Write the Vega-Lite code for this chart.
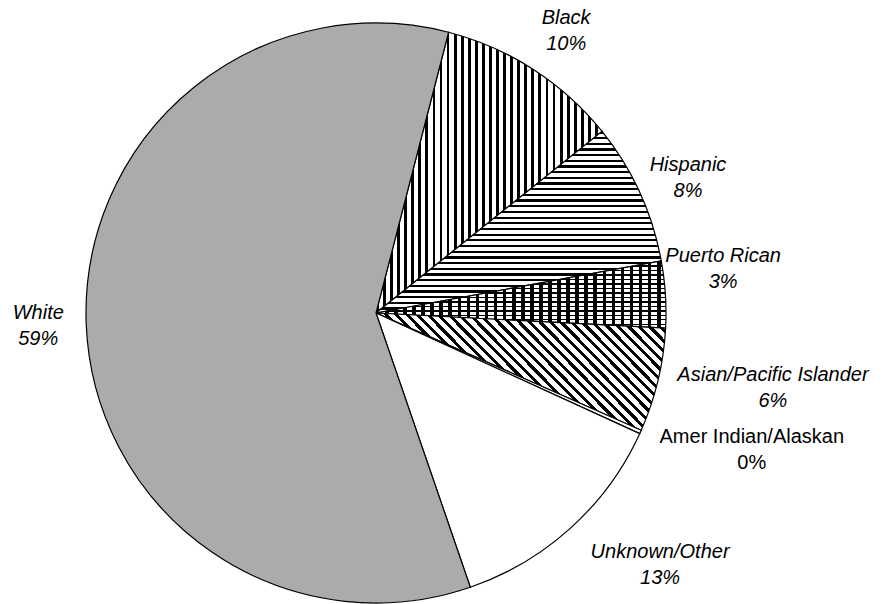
{
  "$schema": "https://vega.github.io/schema/vega-lite/v6.json",
  "width": 580,
  "height": 580,
  "autosize": {"type": "none"},
  "padding": {"left": 86, "top": 23, "right": 216, "bottom": 1},
  "background": "white",
  "view": {"stroke": null},
  "data": {"values": [
    {"cat": "Black", "pct": 10.2, "ord": 1, "label": "Black\n10%"},
    {"cat": "Hispanic", "pct": 7.9, "ord": 2, "label": "Hispanic\n8%"},
    {"cat": "Puerto Rican", "pct": 3.7, "ord": 3, "label": "Puerto Rican\n3%"},
    {"cat": "Asian/Pacific Islander", "pct": 5.8, "ord": 4, "label": "Asian/Pacific Islander\n6%"},
    {"cat": "Amer Indian/Alaskan", "pct": 0.2, "ord": 5, "label": "Amer Indian/Alaskan\n0%"},
    {"cat": "Unknown/Other", "pct": 12.9, "ord": 6, "label": "Unknown/Other\n13%"},
    {"cat": "White", "pct": 59.3, "ord": 7, "label": "White\n59%"}
  ]},
  "encoding": {
    "theta": {"field": "pct", "type": "quantitative", "stack": true, "scale": {"range": [0.2531, 6.5363]}},
    "order": {"field": "ord", "type": "quantitative"}
  },
  "layer": [
    {
      "mark": {"type": "arc", "radius": 290, "stroke": "#000", "strokeWidth": 1.2},
      "encoding": {
        "fill": {
          "condition": [
            {"test": "datum.ord == 1", "value": {"gradient": "linear", "x1": 0, "y1": 0, "x2": 1, "y2": 0, "stops": [
              {"offset":0,"color":"#000"},{"offset":0.0125,"color":"#000"},{"offset":0.0125,"color":"#fff"},{"offset":0.03125,"color":"#fff"},
              {"offset":0.03125,"color":"#000"},{"offset":0.04375,"color":"#000"},{"offset":0.04375,"color":"#fff"},{"offset":0.0625,"color":"#fff"},
              {"offset":0.0625,"color":"#000"},{"offset":0.075,"color":"#000"},{"offset":0.075,"color":"#fff"},{"offset":0.09375,"color":"#fff"},
              {"offset":0.09375,"color":"#000"},{"offset":0.10625,"color":"#000"},{"offset":0.10625,"color":"#fff"},{"offset":0.125,"color":"#fff"},
              {"offset":0.125,"color":"#000"},{"offset":0.1375,"color":"#000"},{"offset":0.1375,"color":"#fff"},{"offset":0.15625,"color":"#fff"},
              {"offset":0.15625,"color":"#000"},{"offset":0.16875,"color":"#000"},{"offset":0.16875,"color":"#fff"},{"offset":0.1875,"color":"#fff"},
              {"offset":0.1875,"color":"#000"},{"offset":0.2,"color":"#000"},{"offset":0.2,"color":"#fff"},{"offset":0.21875,"color":"#fff"},
              {"offset":0.21875,"color":"#000"},{"offset":0.23125,"color":"#000"},{"offset":0.23125,"color":"#fff"},{"offset":0.25,"color":"#fff"},
              {"offset":0.25,"color":"#000"},{"offset":0.2625,"color":"#000"},{"offset":0.2625,"color":"#fff"},{"offset":0.28125,"color":"#fff"},
              {"offset":0.28125,"color":"#000"},{"offset":0.29375,"color":"#000"},{"offset":0.29375,"color":"#fff"},{"offset":0.3125,"color":"#fff"},
              {"offset":0.3125,"color":"#000"},{"offset":0.325,"color":"#000"},{"offset":0.325,"color":"#fff"},{"offset":0.34375,"color":"#fff"},
              {"offset":0.34375,"color":"#000"},{"offset":0.35625,"color":"#000"},{"offset":0.35625,"color":"#fff"},{"offset":0.375,"color":"#fff"},
              {"offset":0.375,"color":"#000"},{"offset":0.3875,"color":"#000"},{"offset":0.3875,"color":"#fff"},{"offset":0.40625,"color":"#fff"},
              {"offset":0.40625,"color":"#000"},{"offset":0.41875,"color":"#000"},{"offset":0.41875,"color":"#fff"},{"offset":0.4375,"color":"#fff"},
              {"offset":0.4375,"color":"#000"},{"offset":0.45,"color":"#000"},{"offset":0.45,"color":"#fff"},{"offset":0.46875,"color":"#fff"},
              {"offset":0.46875,"color":"#000"},{"offset":0.48125,"color":"#000"},{"offset":0.48125,"color":"#fff"},{"offset":0.5,"color":"#fff"},
              {"offset":0.5,"color":"#000"},{"offset":0.5125,"color":"#000"},{"offset":0.5125,"color":"#fff"},{"offset":0.53125,"color":"#fff"},
              {"offset":0.53125,"color":"#000"},{"offset":0.54375,"color":"#000"},{"offset":0.54375,"color":"#fff"},{"offset":0.5625,"color":"#fff"},
              {"offset":0.5625,"color":"#000"},{"offset":0.575,"color":"#000"},{"offset":0.575,"color":"#fff"},{"offset":0.59375,"color":"#fff"},
              {"offset":0.59375,"color":"#000"},{"offset":0.60625,"color":"#000"},{"offset":0.60625,"color":"#fff"},{"offset":0.625,"color":"#fff"},
              {"offset":0.625,"color":"#000"},{"offset":0.6375,"color":"#000"},{"offset":0.6375,"color":"#fff"},{"offset":0.65625,"color":"#fff"},
              {"offset":0.65625,"color":"#000"},{"offset":0.66875,"color":"#000"},{"offset":0.66875,"color":"#fff"},{"offset":0.6875,"color":"#fff"},
              {"offset":0.6875,"color":"#000"},{"offset":0.7,"color":"#000"},{"offset":0.7,"color":"#fff"},{"offset":0.71875,"color":"#fff"},
              {"offset":0.71875,"color":"#000"},{"offset":0.73125,"color":"#000"},{"offset":0.73125,"color":"#fff"},{"offset":0.75,"color":"#fff"},
              {"offset":0.75,"color":"#000"},{"offset":0.7625,"color":"#000"},{"offset":0.7625,"color":"#fff"},{"offset":0.78125,"color":"#fff"},
              {"offset":0.78125,"color":"#000"},{"offset":0.79375,"color":"#000"},{"offset":0.79375,"color":"#fff"},{"offset":0.8125,"color":"#fff"},
              {"offset":0.8125,"color":"#000"},{"offset":0.825,"color":"#000"},{"offset":0.825,"color":"#fff"},{"offset":0.84375,"color":"#fff"},
              {"offset":0.84375,"color":"#000"},{"offset":0.85625,"color":"#000"},{"offset":0.85625,"color":"#fff"},{"offset":0.875,"color":"#fff"},
              {"offset":0.875,"color":"#000"},{"offset":0.8875,"color":"#000"},{"offset":0.8875,"color":"#fff"},{"offset":0.90625,"color":"#fff"},
              {"offset":0.90625,"color":"#000"},{"offset":0.91875,"color":"#000"},{"offset":0.91875,"color":"#fff"},{"offset":0.9375,"color":"#fff"},
              {"offset":0.9375,"color":"#000"},{"offset":0.95,"color":"#000"},{"offset":0.95,"color":"#fff"},{"offset":0.96875,"color":"#fff"},
              {"offset":0.96875,"color":"#000"},{"offset":0.98125,"color":"#000"},{"offset":0.98125,"color":"#fff"},{"offset":1,"color":"#fff"}
            ]}},
            {"test": "datum.ord == 2", "value": {"gradient": "linear", "x1": 0, "y1": 0, "x2": 0, "y2": 1, "stops": [
              {"offset":0,"color":"#000"},{"offset":0.0125,"color":"#000"},{"offset":0.0125,"color":"#fff"},{"offset":0.03125,"color":"#fff"},
              {"offset":0.03125,"color":"#000"},{"offset":0.04375,"color":"#000"},{"offset":0.04375,"color":"#fff"},{"offset":0.0625,"color":"#fff"},
              {"offset":0.0625,"color":"#000"},{"offset":0.075,"color":"#000"},{"offset":0.075,"color":"#fff"},{"offset":0.09375,"color":"#fff"},
              {"offset":0.09375,"color":"#000"},{"offset":0.10625,"color":"#000"},{"offset":0.10625,"color":"#fff"},{"offset":0.125,"color":"#fff"},
              {"offset":0.125,"color":"#000"},{"offset":0.1375,"color":"#000"},{"offset":0.1375,"color":"#fff"},{"offset":0.15625,"color":"#fff"},
              {"offset":0.15625,"color":"#000"},{"offset":0.16875,"color":"#000"},{"offset":0.16875,"color":"#fff"},{"offset":0.1875,"color":"#fff"},
              {"offset":0.1875,"color":"#000"},{"offset":0.2,"color":"#000"},{"offset":0.2,"color":"#fff"},{"offset":0.21875,"color":"#fff"},
              {"offset":0.21875,"color":"#000"},{"offset":0.23125,"color":"#000"},{"offset":0.23125,"color":"#fff"},{"offset":0.25,"color":"#fff"},
              {"offset":0.25,"color":"#000"},{"offset":0.2625,"color":"#000"},{"offset":0.2625,"color":"#fff"},{"offset":0.28125,"color":"#fff"},
              {"offset":0.28125,"color":"#000"},{"offset":0.29375,"color":"#000"},{"offset":0.29375,"color":"#fff"},{"offset":0.3125,"color":"#fff"},
              {"offset":0.3125,"color":"#000"},{"offset":0.325,"color":"#000"},{"offset":0.325,"color":"#fff"},{"offset":0.34375,"color":"#fff"},
              {"offset":0.34375,"color":"#000"},{"offset":0.35625,"color":"#000"},{"offset":0.35625,"color":"#fff"},{"offset":0.375,"color":"#fff"},
              {"offset":0.375,"color":"#000"},{"offset":0.3875,"color":"#000"},{"offset":0.3875,"color":"#fff"},{"offset":0.40625,"color":"#fff"},
              {"offset":0.40625,"color":"#000"},{"offset":0.41875,"color":"#000"},{"offset":0.41875,"color":"#fff"},{"offset":0.4375,"color":"#fff"},
              {"offset":0.4375,"color":"#000"},{"offset":0.45,"color":"#000"},{"offset":0.45,"color":"#fff"},{"offset":0.46875,"color":"#fff"},
              {"offset":0.46875,"color":"#000"},{"offset":0.48125,"color":"#000"},{"offset":0.48125,"color":"#fff"},{"offset":0.5,"color":"#fff"},
              {"offset":0.5,"color":"#000"},{"offset":0.5125,"color":"#000"},{"offset":0.5125,"color":"#fff"},{"offset":0.53125,"color":"#fff"},
              {"offset":0.53125,"color":"#000"},{"offset":0.54375,"color":"#000"},{"offset":0.54375,"color":"#fff"},{"offset":0.5625,"color":"#fff"},
              {"offset":0.5625,"color":"#000"},{"offset":0.575,"color":"#000"},{"offset":0.575,"color":"#fff"},{"offset":0.59375,"color":"#fff"},
              {"offset":0.59375,"color":"#000"},{"offset":0.60625,"color":"#000"},{"offset":0.60625,"color":"#fff"},{"offset":0.625,"color":"#fff"},
              {"offset":0.625,"color":"#000"},{"offset":0.6375,"color":"#000"},{"offset":0.6375,"color":"#fff"},{"offset":0.65625,"color":"#fff"},
              {"offset":0.65625,"color":"#000"},{"offset":0.66875,"color":"#000"},{"offset":0.66875,"color":"#fff"},{"offset":0.6875,"color":"#fff"},
              {"offset":0.6875,"color":"#000"},{"offset":0.7,"color":"#000"},{"offset":0.7,"color":"#fff"},{"offset":0.71875,"color":"#fff"},
              {"offset":0.71875,"color":"#000"},{"offset":0.73125,"color":"#000"},{"offset":0.73125,"color":"#fff"},{"offset":0.75,"color":"#fff"},
              {"offset":0.75,"color":"#000"},{"offset":0.7625,"color":"#000"},{"offset":0.7625,"color":"#fff"},{"offset":0.78125,"color":"#fff"},
              {"offset":0.78125,"color":"#000"},{"offset":0.79375,"color":"#000"},{"offset":0.79375,"color":"#fff"},{"offset":0.8125,"color":"#fff"},
              {"offset":0.8125,"color":"#000"},{"offset":0.825,"color":"#000"},{"offset":0.825,"color":"#fff"},{"offset":0.84375,"color":"#fff"},
              {"offset":0.84375,"color":"#000"},{"offset":0.85625,"color":"#000"},{"offset":0.85625,"color":"#fff"},{"offset":0.875,"color":"#fff"},
              {"offset":0.875,"color":"#000"},{"offset":0.8875,"color":"#000"},{"offset":0.8875,"color":"#fff"},{"offset":0.90625,"color":"#fff"},
              {"offset":0.90625,"color":"#000"},{"offset":0.91875,"color":"#000"},{"offset":0.91875,"color":"#fff"},{"offset":0.9375,"color":"#fff"},
              {"offset":0.9375,"color":"#000"},{"offset":0.95,"color":"#000"},{"offset":0.95,"color":"#fff"},{"offset":0.96875,"color":"#fff"},
              {"offset":0.96875,"color":"#000"},{"offset":0.98125,"color":"#000"},{"offset":0.98125,"color":"#fff"},{"offset":1,"color":"#fff"}
            ]}},
            {"test": "datum.ord == 3", "value": {"gradient": "linear", "x1": 0, "y1": 0, "x2": 1, "y2": 0, "stops": [
              {"offset":0,"color":"#000"},{"offset":0.0125,"color":"#000"},{"offset":0.0125,"color":"#fff"},{"offset":0.03125,"color":"#fff"},
              {"offset":0.03125,"color":"#000"},{"offset":0.04375,"color":"#000"},{"offset":0.04375,"color":"#fff"},{"offset":0.0625,"color":"#fff"},
              {"offset":0.0625,"color":"#000"},{"offset":0.075,"color":"#000"},{"offset":0.075,"color":"#fff"},{"offset":0.09375,"color":"#fff"},
              {"offset":0.09375,"color":"#000"},{"offset":0.10625,"color":"#000"},{"offset":0.10625,"color":"#fff"},{"offset":0.125,"color":"#fff"},
              {"offset":0.125,"color":"#000"},{"offset":0.1375,"color":"#000"},{"offset":0.1375,"color":"#fff"},{"offset":0.15625,"color":"#fff"},
              {"offset":0.15625,"color":"#000"},{"offset":0.16875,"color":"#000"},{"offset":0.16875,"color":"#fff"},{"offset":0.1875,"color":"#fff"},
              {"offset":0.1875,"color":"#000"},{"offset":0.2,"color":"#000"},{"offset":0.2,"color":"#fff"},{"offset":0.21875,"color":"#fff"},
              {"offset":0.21875,"color":"#000"},{"offset":0.23125,"color":"#000"},{"offset":0.23125,"color":"#fff"},{"offset":0.25,"color":"#fff"},
              {"offset":0.25,"color":"#000"},{"offset":0.2625,"color":"#000"},{"offset":0.2625,"color":"#fff"},{"offset":0.28125,"color":"#fff"},
              {"offset":0.28125,"color":"#000"},{"offset":0.29375,"color":"#000"},{"offset":0.29375,"color":"#fff"},{"offset":0.3125,"color":"#fff"},
              {"offset":0.3125,"color":"#000"},{"offset":0.325,"color":"#000"},{"offset":0.325,"color":"#fff"},{"offset":0.34375,"color":"#fff"},
              {"offset":0.34375,"color":"#000"},{"offset":0.35625,"color":"#000"},{"offset":0.35625,"color":"#fff"},{"offset":0.375,"color":"#fff"},
              {"offset":0.375,"color":"#000"},{"offset":0.3875,"color":"#000"},{"offset":0.3875,"color":"#fff"},{"offset":0.40625,"color":"#fff"},
              {"offset":0.40625,"color":"#000"},{"offset":0.41875,"color":"#000"},{"offset":0.41875,"color":"#fff"},{"offset":0.4375,"color":"#fff"},
              {"offset":0.4375,"color":"#000"},{"offset":0.45,"color":"#000"},{"offset":0.45,"color":"#fff"},{"offset":0.46875,"color":"#fff"},
              {"offset":0.46875,"color":"#000"},{"offset":0.48125,"color":"#000"},{"offset":0.48125,"color":"#fff"},{"offset":0.5,"color":"#fff"},
              {"offset":0.5,"color":"#000"},{"offset":0.5125,"color":"#000"},{"offset":0.5125,"color":"#fff"},{"offset":0.53125,"color":"#fff"},
              {"offset":0.53125,"color":"#000"},{"offset":0.54375,"color":"#000"},{"offset":0.54375,"color":"#fff"},{"offset":0.5625,"color":"#fff"},
              {"offset":0.5625,"color":"#000"},{"offset":0.575,"color":"#000"},{"offset":0.575,"color":"#fff"},{"offset":0.59375,"color":"#fff"},
              {"offset":0.59375,"color":"#000"},{"offset":0.60625,"color":"#000"},{"offset":0.60625,"color":"#fff"},{"offset":0.625,"color":"#fff"},
              {"offset":0.625,"color":"#000"},{"offset":0.6375,"color":"#000"},{"offset":0.6375,"color":"#fff"},{"offset":0.65625,"color":"#fff"},
              {"offset":0.65625,"color":"#000"},{"offset":0.66875,"color":"#000"},{"offset":0.66875,"color":"#fff"},{"offset":0.6875,"color":"#fff"},
              {"offset":0.6875,"color":"#000"},{"offset":0.7,"color":"#000"},{"offset":0.7,"color":"#fff"},{"offset":0.71875,"color":"#fff"},
              {"offset":0.71875,"color":"#000"},{"offset":0.73125,"color":"#000"},{"offset":0.73125,"color":"#fff"},{"offset":0.75,"color":"#fff"},
              {"offset":0.75,"color":"#000"},{"offset":0.7625,"color":"#000"},{"offset":0.7625,"color":"#fff"},{"offset":0.78125,"color":"#fff"},
              {"offset":0.78125,"color":"#000"},{"offset":0.79375,"color":"#000"},{"offset":0.79375,"color":"#fff"},{"offset":0.8125,"color":"#fff"},
              {"offset":0.8125,"color":"#000"},{"offset":0.825,"color":"#000"},{"offset":0.825,"color":"#fff"},{"offset":0.84375,"color":"#fff"},
              {"offset":0.84375,"color":"#000"},{"offset":0.85625,"color":"#000"},{"offset":0.85625,"color":"#fff"},{"offset":0.875,"color":"#fff"},
              {"offset":0.875,"color":"#000"},{"offset":0.8875,"color":"#000"},{"offset":0.8875,"color":"#fff"},{"offset":0.90625,"color":"#fff"},
              {"offset":0.90625,"color":"#000"},{"offset":0.91875,"color":"#000"},{"offset":0.91875,"color":"#fff"},{"offset":0.9375,"color":"#fff"},
              {"offset":0.9375,"color":"#000"},{"offset":0.95,"color":"#000"},{"offset":0.95,"color":"#fff"},{"offset":0.96875,"color":"#fff"},
              {"offset":0.96875,"color":"#000"},{"offset":0.98125,"color":"#000"},{"offset":0.98125,"color":"#fff"},{"offset":1,"color":"#fff"}
            ]}},
            {"test": "datum.ord == 4", "value": {"gradient": "linear", "x1": 0, "y1": 0.4, "x2": 1, "y2": 0, "stops": [
              {"offset":0,"color":"#000"},{"offset":0.0125,"color":"#000"},{"offset":0.0125,"color":"#fff"},{"offset":0.03125,"color":"#fff"},
              {"offset":0.03125,"color":"#000"},{"offset":0.04375,"color":"#000"},{"offset":0.04375,"color":"#fff"},{"offset":0.0625,"color":"#fff"},
              {"offset":0.0625,"color":"#000"},{"offset":0.075,"color":"#000"},{"offset":0.075,"color":"#fff"},{"offset":0.09375,"color":"#fff"},
              {"offset":0.09375,"color":"#000"},{"offset":0.10625,"color":"#000"},{"offset":0.10625,"color":"#fff"},{"offset":0.125,"color":"#fff"},
              {"offset":0.125,"color":"#000"},{"offset":0.1375,"color":"#000"},{"offset":0.1375,"color":"#fff"},{"offset":0.15625,"color":"#fff"},
              {"offset":0.15625,"color":"#000"},{"offset":0.16875,"color":"#000"},{"offset":0.16875,"color":"#fff"},{"offset":0.1875,"color":"#fff"},
              {"offset":0.1875,"color":"#000"},{"offset":0.2,"color":"#000"},{"offset":0.2,"color":"#fff"},{"offset":0.21875,"color":"#fff"},
              {"offset":0.21875,"color":"#000"},{"offset":0.23125,"color":"#000"},{"offset":0.23125,"color":"#fff"},{"offset":0.25,"color":"#fff"},
              {"offset":0.25,"color":"#000"},{"offset":0.2625,"color":"#000"},{"offset":0.2625,"color":"#fff"},{"offset":0.28125,"color":"#fff"},
              {"offset":0.28125,"color":"#000"},{"offset":0.29375,"color":"#000"},{"offset":0.29375,"color":"#fff"},{"offset":0.3125,"color":"#fff"},
              {"offset":0.3125,"color":"#000"},{"offset":0.325,"color":"#000"},{"offset":0.325,"color":"#fff"},{"offset":0.34375,"color":"#fff"},
              {"offset":0.34375,"color":"#000"},{"offset":0.35625,"color":"#000"},{"offset":0.35625,"color":"#fff"},{"offset":0.375,"color":"#fff"},
              {"offset":0.375,"color":"#000"},{"offset":0.3875,"color":"#000"},{"offset":0.3875,"color":"#fff"},{"offset":0.40625,"color":"#fff"},
              {"offset":0.40625,"color":"#000"},{"offset":0.41875,"color":"#000"},{"offset":0.41875,"color":"#fff"},{"offset":0.4375,"color":"#fff"},
              {"offset":0.4375,"color":"#000"},{"offset":0.45,"color":"#000"},{"offset":0.45,"color":"#fff"},{"offset":0.46875,"color":"#fff"},
              {"offset":0.46875,"color":"#000"},{"offset":0.48125,"color":"#000"},{"offset":0.48125,"color":"#fff"},{"offset":0.5,"color":"#fff"},
              {"offset":0.5,"color":"#000"},{"offset":0.5125,"color":"#000"},{"offset":0.5125,"color":"#fff"},{"offset":0.53125,"color":"#fff"},
              {"offset":0.53125,"color":"#000"},{"offset":0.54375,"color":"#000"},{"offset":0.54375,"color":"#fff"},{"offset":0.5625,"color":"#fff"},
              {"offset":0.5625,"color":"#000"},{"offset":0.575,"color":"#000"},{"offset":0.575,"color":"#fff"},{"offset":0.59375,"color":"#fff"},
              {"offset":0.59375,"color":"#000"},{"offset":0.60625,"color":"#000"},{"offset":0.60625,"color":"#fff"},{"offset":0.625,"color":"#fff"},
              {"offset":0.625,"color":"#000"},{"offset":0.6375,"color":"#000"},{"offset":0.6375,"color":"#fff"},{"offset":0.65625,"color":"#fff"},
              {"offset":0.65625,"color":"#000"},{"offset":0.66875,"color":"#000"},{"offset":0.66875,"color":"#fff"},{"offset":0.6875,"color":"#fff"},
              {"offset":0.6875,"color":"#000"},{"offset":0.7,"color":"#000"},{"offset":0.7,"color":"#fff"},{"offset":0.71875,"color":"#fff"},
              {"offset":0.71875,"color":"#000"},{"offset":0.73125,"color":"#000"},{"offset":0.73125,"color":"#fff"},{"offset":0.75,"color":"#fff"},
              {"offset":0.75,"color":"#000"},{"offset":0.7625,"color":"#000"},{"offset":0.7625,"color":"#fff"},{"offset":0.78125,"color":"#fff"},
              {"offset":0.78125,"color":"#000"},{"offset":0.79375,"color":"#000"},{"offset":0.79375,"color":"#fff"},{"offset":0.8125,"color":"#fff"},
              {"offset":0.8125,"color":"#000"},{"offset":0.825,"color":"#000"},{"offset":0.825,"color":"#fff"},{"offset":0.84375,"color":"#fff"},
              {"offset":0.84375,"color":"#000"},{"offset":0.85625,"color":"#000"},{"offset":0.85625,"color":"#fff"},{"offset":0.875,"color":"#fff"},
              {"offset":0.875,"color":"#000"},{"offset":0.8875,"color":"#000"},{"offset":0.8875,"color":"#fff"},{"offset":0.90625,"color":"#fff"},
              {"offset":0.90625,"color":"#000"},{"offset":0.91875,"color":"#000"},{"offset":0.91875,"color":"#fff"},{"offset":0.9375,"color":"#fff"},
              {"offset":0.9375,"color":"#000"},{"offset":0.95,"color":"#000"},{"offset":0.95,"color":"#fff"},{"offset":0.96875,"color":"#fff"},
              {"offset":0.96875,"color":"#000"},{"offset":0.98125,"color":"#000"},{"offset":0.98125,"color":"#fff"},{"offset":1,"color":"#fff"}
            ]}},
            {"test": "datum.ord == 7", "value": "#ababab"}
          ],
          "value": "#ffffff"
        }
      }
    },
    {
      "mark": {"type": "arc", "radius": 290, "strokeWidth": 0},
      "encoding": {
        "fill": {
          "condition": {"test": "datum.ord == 3", "value": {"gradient": "linear", "x1": 0, "y1": 0, "x2": 0, "y2": 1, "stops": [
            {"offset":0,"color":"#000"},{"offset":0.02,"color":"#000"},{"offset":0.02,"color":"rgba(0,0,0,0)"},{"offset":0.0667,"color":"rgba(0,0,0,0)"},
            {"offset":0.0667,"color":"#000"},{"offset":0.0867,"color":"#000"},{"offset":0.0867,"color":"rgba(0,0,0,0)"},{"offset":0.1333,"color":"rgba(0,0,0,0)"},
            {"offset":0.1333,"color":"#000"},{"offset":0.1533,"color":"#000"},{"offset":0.1533,"color":"rgba(0,0,0,0)"},{"offset":0.2,"color":"rgba(0,0,0,0)"},
            {"offset":0.2,"color":"#000"},{"offset":0.22,"color":"#000"},{"offset":0.22,"color":"rgba(0,0,0,0)"},{"offset":0.2667,"color":"rgba(0,0,0,0)"},
            {"offset":0.2667,"color":"#000"},{"offset":0.2867,"color":"#000"},{"offset":0.2867,"color":"rgba(0,0,0,0)"},{"offset":0.3333,"color":"rgba(0,0,0,0)"},
            {"offset":0.3333,"color":"#000"},{"offset":0.3533,"color":"#000"},{"offset":0.3533,"color":"rgba(0,0,0,0)"},{"offset":0.4,"color":"rgba(0,0,0,0)"},
            {"offset":0.4,"color":"#000"},{"offset":0.42,"color":"#000"},{"offset":0.42,"color":"rgba(0,0,0,0)"},{"offset":0.4667,"color":"rgba(0,0,0,0)"},
            {"offset":0.4667,"color":"#000"},{"offset":0.4867,"color":"#000"},{"offset":0.4867,"color":"rgba(0,0,0,0)"},{"offset":0.5333,"color":"rgba(0,0,0,0)"},
            {"offset":0.5333,"color":"#000"},{"offset":0.5533,"color":"#000"},{"offset":0.5533,"color":"rgba(0,0,0,0)"},{"offset":0.6,"color":"rgba(0,0,0,0)"},
            {"offset":0.6,"color":"#000"},{"offset":0.62,"color":"#000"},{"offset":0.62,"color":"rgba(0,0,0,0)"},{"offset":0.6667,"color":"rgba(0,0,0,0)"},
            {"offset":0.6667,"color":"#000"},{"offset":0.6867,"color":"#000"},{"offset":0.6867,"color":"rgba(0,0,0,0)"},{"offset":0.7333,"color":"rgba(0,0,0,0)"},
            {"offset":0.7333,"color":"#000"},{"offset":0.7533,"color":"#000"},{"offset":0.7533,"color":"rgba(0,0,0,0)"},{"offset":0.8,"color":"rgba(0,0,0,0)"},
            {"offset":0.8,"color":"#000"},{"offset":0.82,"color":"#000"},{"offset":0.82,"color":"rgba(0,0,0,0)"},{"offset":0.8667,"color":"rgba(0,0,0,0)"},
            {"offset":0.8667,"color":"#000"},{"offset":0.8867,"color":"#000"},{"offset":0.8867,"color":"rgba(0,0,0,0)"},{"offset":0.9333,"color":"rgba(0,0,0,0)"},
            {"offset":0.9333,"color":"#000"},{"offset":0.9533,"color":"#000"},{"offset":0.9533,"color":"rgba(0,0,0,0)"},{"offset":1,"color":"rgba(0,0,0,0)"}
          ]}},
          "value": "rgba(0,0,0,0)"
        }
      }
    },
    {
      "mark": {"type": "text", "radius": 340, "thetaOffset": 0.02, "dy": -13, "font": "Liberation Sans", "fontSize": 20, "fontStyle": "italic", "lineHeight": 26, "lineBreak": "\n", "align": "center", "baseline": "middle", "color": "#000"},
      "encoding": {"text": {"condition": {"test": "datum.ord == 1 || datum.ord == 2", "field": "label"}, "value": ""}}
    },
    {
      "mark": {"type": "text", "radius": 338, "dy": -13, "font": "Liberation Sans", "fontSize": 20, "fontStyle": "italic", "lineHeight": 26, "lineBreak": "\n", "align": "center", "baseline": "middle", "color": "#000"},
      "encoding": {"text": {"condition": {"test": "datum.ord == 7", "field": "label"}, "value": ""}}
    },
    {
      "mark": {"type": "text", "radius": 350, "thetaOffset": -0.063, "dy": -13, "font": "Liberation Sans", "fontSize": 20, "fontStyle": "italic", "lineHeight": 26, "lineBreak": "\n", "align": "center", "baseline": "middle", "color": "#000"},
      "encoding": {"text": {"condition": {"test": "datum.ord == 3", "field": "label"}, "value": ""}}
    },
    {
      "mark": {"type": "text", "radius": 404, "thetaOffset": -0.047, "dy": -13, "font": "Liberation Sans", "fontSize": 20, "fontStyle": "italic", "lineHeight": 26, "lineBreak": "\n", "align": "center", "baseline": "middle", "color": "#000"},
      "encoding": {"text": {"condition": {"test": "datum.ord == 4", "field": "label"}, "value": ""}}
    },
    {
      "mark": {"type": "text", "radius": 400, "thetaOffset": -0.073, "dy": -13, "font": "Liberation Sans", "fontSize": 20, "fontStyle": "normal", "lineHeight": 26, "lineBreak": "\n", "align": "center", "baseline": "middle", "color": "#000"},
      "encoding": {"text": {"condition": {"test": "datum.ord == 5", "field": "label"}, "value": ""}}
    },
    {
      "mark": {"type": "text", "radius": 380, "thetaOffset": -0.108, "dy": -13, "font": "Liberation Sans", "fontSize": 20, "fontStyle": "italic", "lineHeight": 26, "lineBreak": "\n", "align": "center", "baseline": "middle", "color": "#000"},
      "encoding": {"text": {"condition": {"test": "datum.ord == 6", "field": "label"}, "value": ""}}
    }
  ]
}
